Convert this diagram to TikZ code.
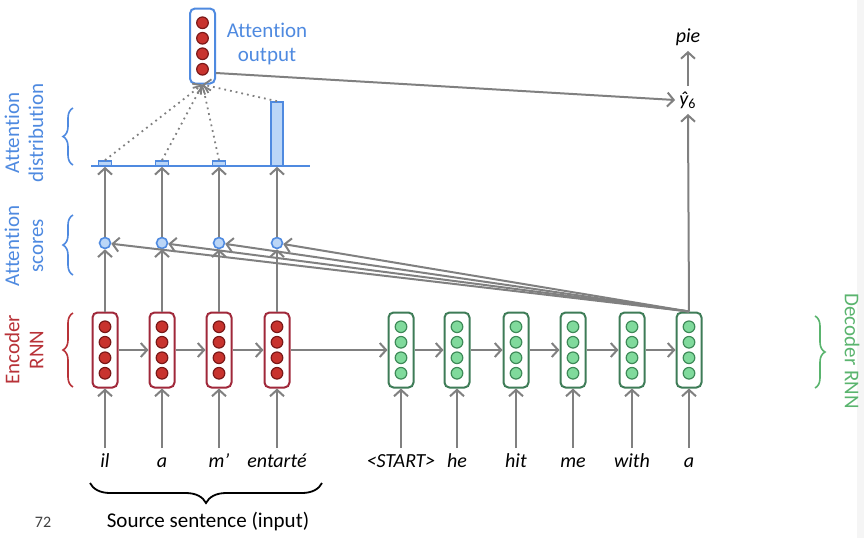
\documentclass[tikz,border=0pt]{standalone}
\usepackage{fontspec}
\setmainfont{Carlito}[Ligatures=NoCommon]
\usetikzlibrary{arrows.meta,decorations.pathreplacing}

\definecolor{attblue}{HTML}{4F8AE0}
\definecolor{scorefill}{HTML}{BBD6F7}
\definecolor{encred}{HTML}{B83238}
\definecolor{encborder}{HTML}{A0283A}
\definecolor{encdotfill}{HTML}{C8332E}
\definecolor{encdotline}{HTML}{7A1818}
\definecolor{decgreen}{HTML}{5AB46E}
\definecolor{decborder}{HTML}{3E7C57}
\definecolor{decdotfill}{HTML}{80DA9C}
\definecolor{decdotline}{HTML}{3E8A58}
\definecolor{arrgray}{HTML}{808080}

\tikzset{
    arr/.style={draw=arrgray, line width=1pt, -{Straight Barb[length=3.2pt,width=7pt]}},
    dotarr/.style={arr, line width=0.9pt, dotted},
    cell/.style={draw, rounded corners=2.5pt, line width=1pt, minimum width=12.5pt,
        minimum height=37.5pt, inner sep=0pt, fill=white},
    enccell/.style={cell, draw=encborder},
    deccell/.style={cell, draw=decborder},
    attcell/.style={cell, draw=attblue},
    encdot/.style={fill=encdotfill, draw=encdotline, line width=0.6pt},
    decdot/.style={fill=decdotfill, draw=decdotline, line width=0.6pt},
    score/.style={circle, draw=attblue, fill=scorefill, line width=0.8pt,
        minimum size=5.5pt, inner sep=0pt},
    bar/.style={draw=attblue, fill=scorefill, line width=0.8pt, inner sep=0pt},
    word/.style={font=\fontsize{10}{12}\selectfont\itshape, text height=1.6ex,
        text depth=.4ex, inner sep=2pt},
    sidelabel/.style={font=\fontsize{10.5}{12}\selectfont, align=center},
    sidebrace/.style={decorate, decoration={brace, amplitude=5pt}, line width=0.8pt},
}

\begin{document}
\begin{tikzpicture}[x=0.5pt, y=-0.5pt]
    \useasboundingbox (0,0) rectangle (864,538);
    \fill[gray!8] (857,0) rectangle (864,538);

    % encoder
    \foreach \i/\x/\w in {1/105/il, 2/162/a, 3/219/m’, 4/277/entarté} {
        \node[enccell] (e\i) at (\x,350) {};
        \foreach \dy in {-23.25,-7.75,7.75,23.25}
            \draw[encdot] (e\i.center) ++(0,\dy) circle[radius=2.9pt];
        \node[word] (src\i) at (\x,462) {\w};
        \draw[arr] (src\i.north) -- (e\i.south);
        \node[score] (s\i) at (\x,243) {};
        \draw[arr] (e\i.north) -- (s\i.south);
    }
    \foreach \i/\j in {1/2, 2/3, 3/4}
        \draw[arr] (e\i.east) -- (e\j.west);

    % decoder
    \foreach \i/\x/\w in {1/401/<START>, 2/457/he, 3/516/hit, 4/573/me, 5/632/with, 6/689/a} {
        \node[deccell] (d\i) at (\x,350) {};
        \foreach \dy in {-23.25,-7.75,7.75,23.25}
            \draw[decdot] (d\i.center) ++(0,\dy) circle[radius=2.9pt];
        \node[word] (tgt\i) at (\x,462) {\w};
        \draw[arr] (tgt\i.north) -- (d\i.south);
    }
    \draw[arr] (e4.east) -- (d1.west);
    \foreach \i/\j in {1/2, 2/3, 3/4, 4/5, 5/6}
        \draw[arr] (d\i.east) -- (d\j.west);

    % attention distribution
    \draw[attblue, line width=0.9pt] (91,166) -- (310,166);
    \foreach \i/\x in {1/105, 2/162, 3/219}
        \node[bar, minimum width=6.5pt, minimum height=2.5pt] (b\i) at (\x,163.5) {};
    \node[bar, minimum width=6pt, minimum height=32pt] (b4) at (277,134) {};
    \foreach \i in {1,...,4} {
        \draw[arr] (s\i.north) -- (b\i.south);
        \draw[arr] (d6.north) -- (s\i);
    }

    % attention output
    \node[attcell] (att) at (202.5,46) {};
    \foreach \dy in {-23.25,-7.75,7.75,23.25}
        \draw[encdot] (att.center) ++(0,\dy) circle[radius=2.9pt];
    \node[sidelabel, text=attblue] (attlabel) at (267,44) {Attention\\output};
    \foreach \i in {1,...,4}
        \draw[dotarr] (b\i.north) -- (att.south);

    \node[word] (yhat) at (688,100) {ŷ\textsubscript{\upshape 6}};
    \node[word] (pie) at (688,37) {pie};
    \draw[arr] (d6.north) -- (yhat.south);
    \draw[arr] (yhat.north) -- (pie.south);
    \draw[arr] ([yshift=-13.5pt]att.east) -- (yhat.west);

    % side labels
    \node[sidelabel, text=attblue, rotate=90] (distlabel) at (24,133) {Attention\\distribution};
    \node[sidelabel, text=attblue, rotate=90] (scorelabel) at (24,246) {Attention\\scores};
    \node[sidelabel, text=encred, rotate=90] (enclabel) at (24,350) {Encoder\\RNN};
    \node[sidelabel, text=decgreen, rotate=-90] (declabel) at (852,351) {Decoder RNN};
    \draw[sidebrace, attblue] (73,165) -- (73,108);
    \draw[sidebrace, attblue] (73,275) -- (73,215);
    \draw[sidebrace, encred] (73,387) -- (73,313);
    \draw[sidebrace, decgreen] (815,316) -- (815,388);

    % source sentence
    \draw[decorate, decoration={brace, amplitude=10pt, mirror}, line width=0.9pt]
        (90,483) -- (322,483);
    \node[sidelabel] (srclabel) at (208,522) {Source sentence (input)};
    \node[font=\fontsize{8}{10}\selectfont, text=black!75] (pagenum) at (43,522) {72};
\end{tikzpicture}
\end{document}
